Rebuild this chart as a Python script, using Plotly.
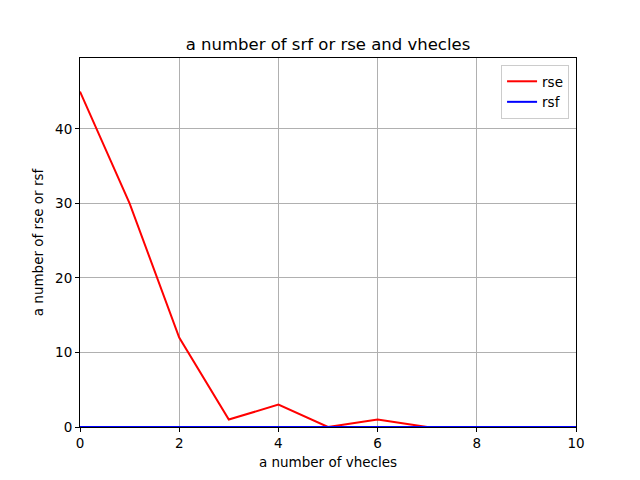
import plotly.graph_objects as go

x_vals = [0, 1, 2, 3, 4, 5, 6, 7, 8, 9, 10]
rse = [45, 30, 12, 1, 3, 0, 1, 0, 0, 0, 0]
rsf = [0, 0, 0, 0, 0, 0, 0, 0, 0, 0, 0]

fig = go.Figure()
fig.add_trace(go.Scatter(x=x_vals, y=rse, mode="lines", name="rse",
                         line=dict(color="red", width=2)))
fig.add_trace(go.Scatter(x=x_vals, y=rsf, mode="lines", name="rsf",
                         line=dict(color="blue", width=2)))

axis_common = dict(showgrid=True, gridcolor="#b0b0b0", gridwidth=1,
                   showline=True, linecolor="black", linewidth=1, mirror=True,
                   ticks="outside", ticklen=4, tickcolor="black", zeroline=False,
                   automargin=False,
                   tickfont=dict(size=13.5, color="black"))

W, H = 624, 464
fig.update_layout(
    width=W, height=H,
    paper_bgcolor="white", plot_bgcolor="white",
    font=dict(family="DejaVu Sans", size=13.5, color="black"),
    margin=dict(l=72, r=56, t=50, b=45, pad=0),
    title=dict(text="a number of srf or rse and vhecles", x=0.5, xanchor="center",
               xref="paper",
               y=1 - 36 / H, yanchor="middle", font=dict(size=16.5)),
    xaxis=dict(title=dict(text="a number of vhecles", standoff=7, font=dict(size=13.5)),
               range=[0, 10], tickvals=[0, 2, 4, 6, 8, 10], **axis_common),
    yaxis=dict(title=dict(text="a number of rse or rsf", standoff=8, font=dict(size=13.5)),
               range=[0, 49.5], tickvals=[0, 10, 20, 30, 40], **axis_common),
    legend=dict(x=0.986, y=0.981, xanchor="right", yanchor="top",
                bgcolor="rgba(255,255,255,0.8)", bordercolor="#cccccc", borderwidth=1,
                font=dict(size=13.5), tracegroupgap=0, itemwidth=30),
    showlegend=True,
)

fig.write_html("out.html")
